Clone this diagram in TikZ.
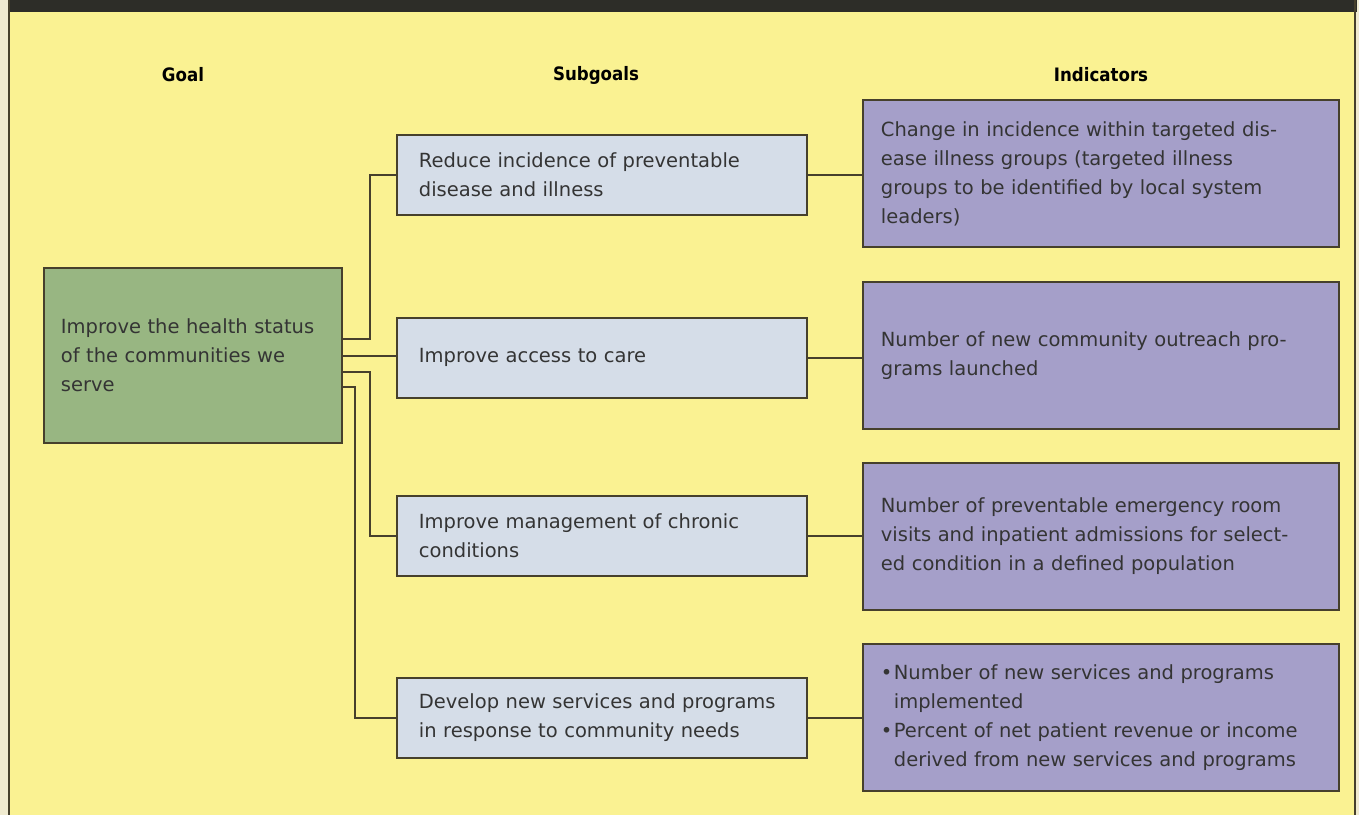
\documentclass[tikz,border=0pt]{standalone}
\usepackage{fontspec}
\setmainfont{DejaVu Sans}
\newfontfamily\headfont{DejaVu Sans Condensed}
\definecolor{bgyellow}{RGB}{250,242,146}
\definecolor{margin}{RGB}{240,235,208}
\definecolor{darkbar}{RGB}{45,45,40}
\definecolor{goalfill}{RGB}{152,182,130}
\definecolor{subfill}{RGB}{213,221,232}
\definecolor{indfill}{RGB}{165,159,201}
\definecolor{edge}{RGB}{70,64,44}
\definecolor{txt}{RGB}{52,52,52}
\newcommand\bul{\makebox[13pt][l]{•}}
\newcommand\ind{\hspace*{13pt}}
\tikzset{
  box/.style={draw=edge, line width=1.8pt, rectangle, align=left, text=txt,
    font=\fontsize{19.5}{29}\selectfont, anchor=north west},
  goalbox/.style={box, fill=goalfill, minimum width=298pt, minimum height=175pt,
    text width=264pt, inner xsep=17pt},
  subbox/.style={box, fill=subfill, minimum width=410pt, minimum height=80pt,
    text width=374pt, inner xsep=18pt, xshift=0pt},
  indbox/.style={box, fill=indfill, minimum width=476pt, minimum height=147pt,
    text width=440pt, inner xsep=18pt},
  head/.style={font=\headfont\bfseries\fontsize{18.5}{22}\selectfont, text=black},
  link/.style={draw=edge, line width=1.8pt}
}
\begin{document}
\begin{tikzpicture}[x=1pt,y=-1pt]
\useasboundingbox (0,0) rectangle (1359,815);
\fill[margin] (0,0) rectangle (1359,815);
\fill[bgyellow] (9,12) rectangle (1355,815);
\fill[darkbar] (9,0) rectangle (1357,12);
\draw[edge, line width=1.8pt] (9,0) -- (9,815);
\draw[edge, line width=1.8pt] (1355,0) -- (1355,815);

\node[head] (hgoal) at (183,75) {Goal};
\node[head] (hsub) at (596,75) {Subgoals};
\node[head] (hind) at (1101,75) {Indicators};

\node[goalbox] (goal) at (43,267) {Improve the health status\\of the communities we\\serve};

\node[subbox] (sub1) at (396,134) {\hspace*{4pt}Reduce incidence of preventable\\\hspace*{4pt}disease and illness};
\node[subbox] (sub2) at (396,317) {\hspace*{4pt}Improve access to care};
\node[subbox] (sub3) at (396,495) {\hspace*{4pt}Improve management of chronic\\\hspace*{4pt}conditions};
\node[subbox] (sub4) at (396,677) {\hspace*{4pt}Develop new services and programs\\\hspace*{4pt}in response to community needs};

\node[indbox] (ind1) at (862,99) {Change in incidence within targeted dis-\\ease illness groups (targeted illness\\groups to be identified by local system\\leaders)};
\node[indbox] (ind2) at (862,281) {Number of new community outreach pro-\\grams launched};
\node[indbox] (ind3) at (862,462) {Number of preventable emergency room\\visits and inpatient admissions for select-\\ed condition in a defined population};
\node[indbox] (ind4) at (862,643) {\bul Number of new services and programs\\\ind implemented\\\bul Percent of net patient revenue or income\\\ind derived from new services and programs};

\draw[link] ([yshift=16.5pt]goal.east) -- ++(27,0) |- (sub1.west);
\draw[link] ([yshift=-0.5pt]goal.east) -- ([yshift=-0.5pt]goal.east -| sub2.west);
\draw[link] ([yshift=-16.5pt]goal.east) -- ++(27,0) |- (sub3.west);
\draw[link] ([yshift=-31.5pt]goal.east) -- ++(12,0) |- (sub4.west);

\draw[link] (sub1.east) -- (sub1.east -| ind1.west);
\draw[link] (sub2.east) -- (sub2.east -| ind2.west);
\draw[link] (sub3.east) -- (sub3.east -| ind3.west);
\draw[link] (sub4.east) -- (sub4.east -| ind4.west);
\end{tikzpicture}
\end{document}
